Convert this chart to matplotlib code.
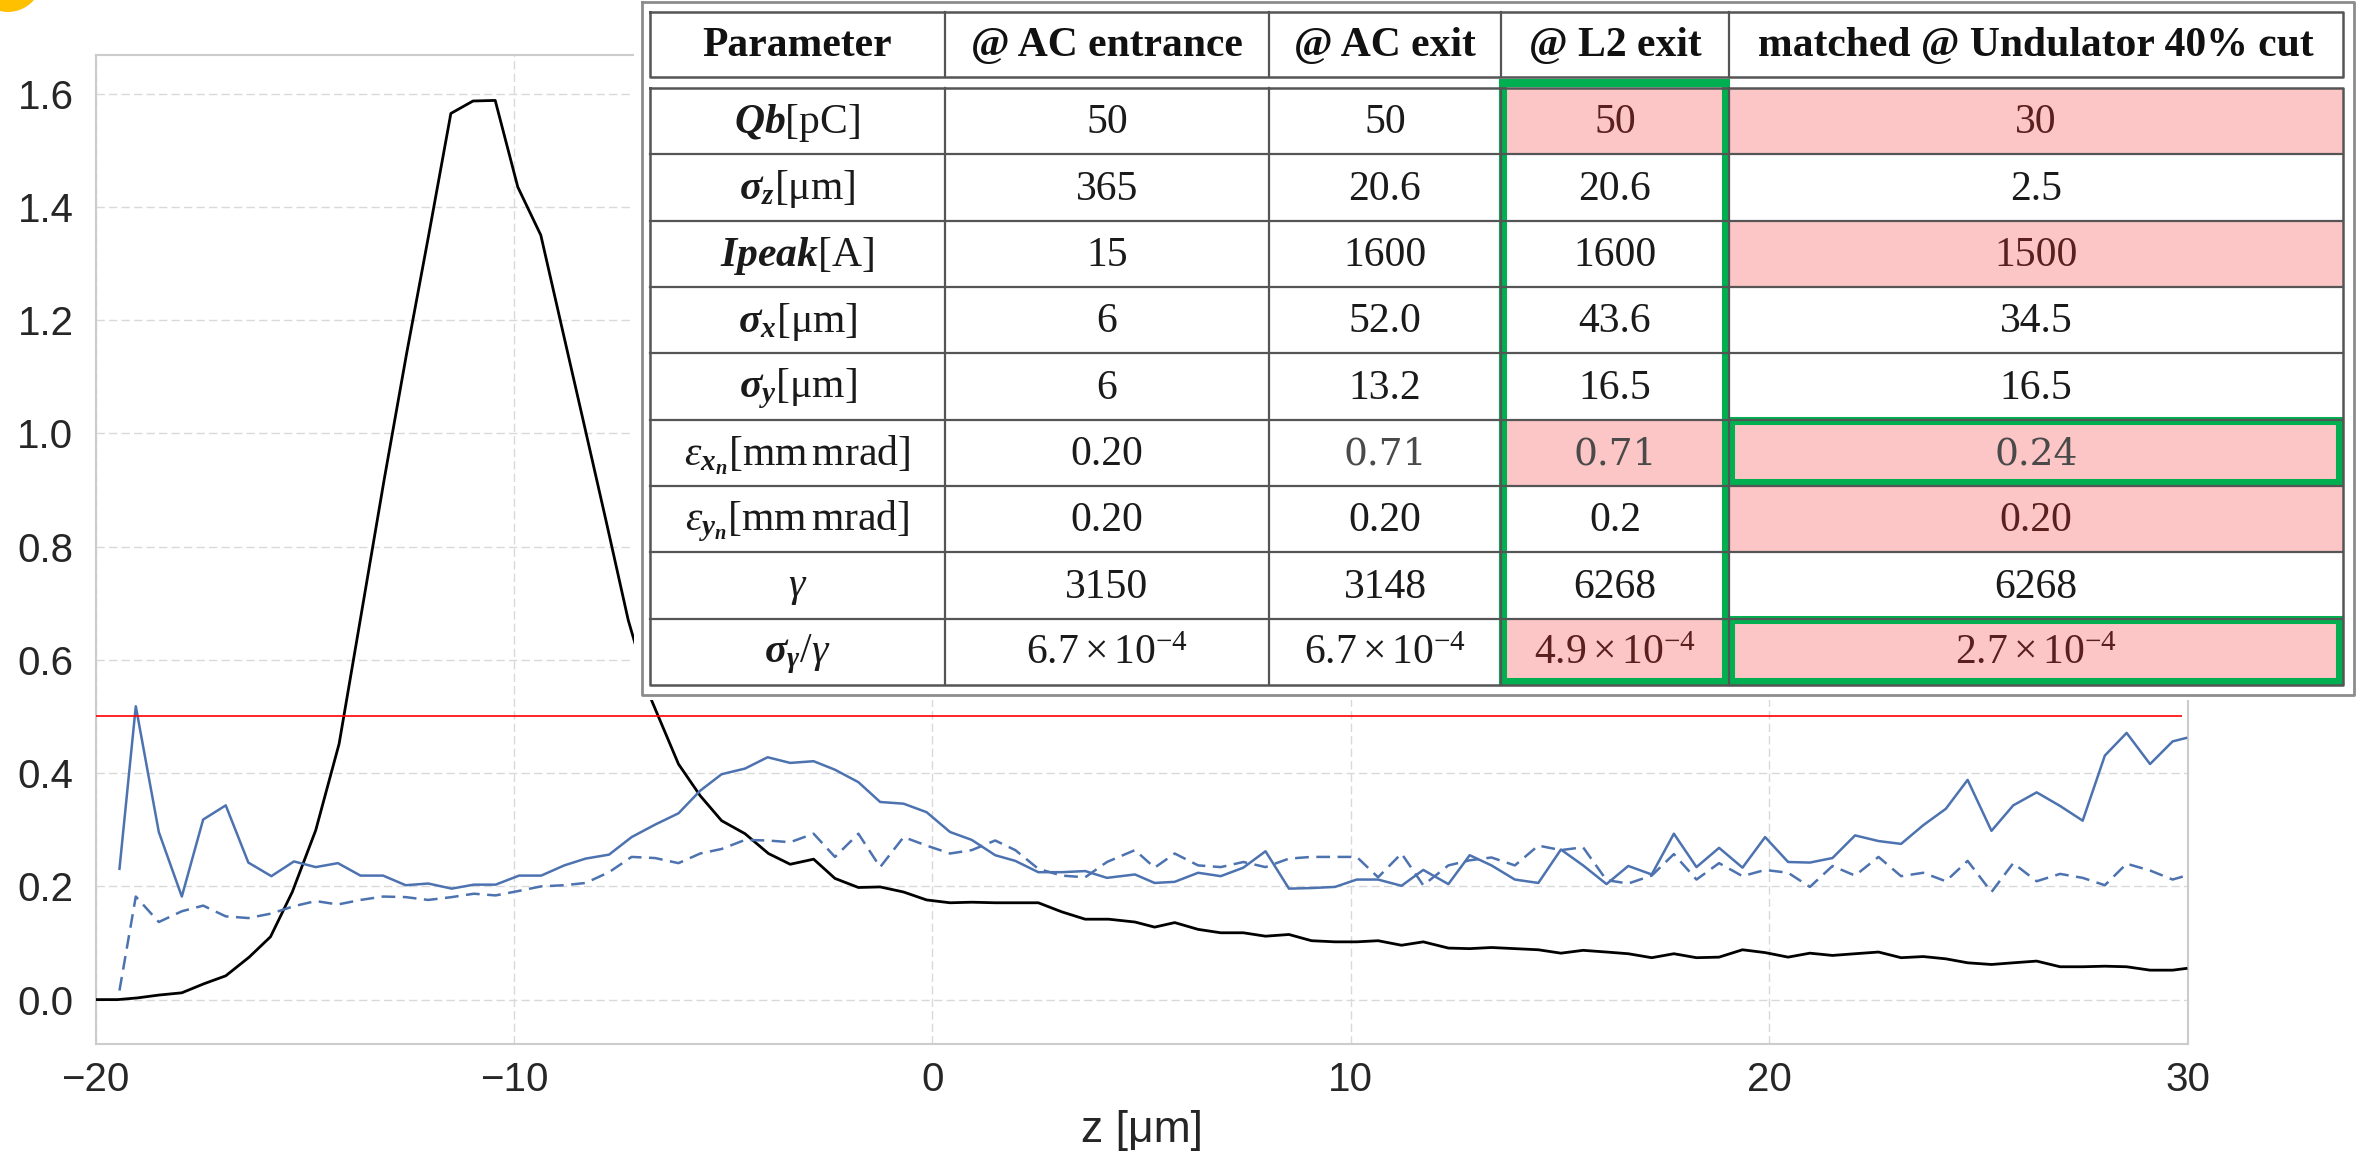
import matplotlib
matplotlib.use("Agg")
import matplotlib.pyplot as plt
from matplotlib.patches import Rectangle, Circle

# ── curves ─────────────────────────────────────────────────────
z_current = [-20.0, -19.47, -19.0, -18.49, -17.94, -17.41, -16.89, -16.33, -15.82, -15.30,
             -14.74, -14.18, -13.63, -13.10, -12.57, -12.04, -11.51, -10.98, -10.45, -9.91,
             -9.36, -8.85, -8.32, -7.79, -7.27, -6.71, -6.07, -5.55, -5.04, -4.48,
             -3.92, -3.40, -2.84, -2.33, -1.77, -1.25, -0.69, -0.14, 0.42, 0.94,
             1.50, 1.98, 2.53, 3.09, 3.65, 4.21, 4.84, 5.31, 5.79, 6.35,
             6.89, 7.43, 7.96, 8.52, 9.06, 9.62, 10.14, 10.65, 11.21, 11.73,
             12.33, 12.84, 13.36, 13.92, 14.48, 15.02, 15.55, 16.11, 16.63, 17.19,
             17.72, 18.26, 18.80, 19.36, 19.90, 20.45, 20.97, 21.51, 22.05, 22.61,
             23.15, 23.68, 24.22, 24.74, 25.31, 25.83, 26.39, 26.95, 27.49, 28.02,
             28.54, 29.10, 29.64, 29.96]
current = [0.000, 0.000, 0.003, 0.008, 0.012, 0.028, 0.042, 0.075, 0.111, 0.190,
           0.299, 0.452, 0.690, 0.920, 1.140, 1.350, 1.565, 1.587, 1.588, 1.435,
           1.350, 1.185, 1.014, 0.842, 0.670, 0.528, 0.416, 0.360, 0.316, 0.293,
           0.258, 0.239, 0.248, 0.214, 0.198, 0.199, 0.190, 0.176, 0.171, 0.172,
           0.171, 0.171, 0.171, 0.155, 0.142, 0.142, 0.137, 0.128, 0.136, 0.124,
           0.118, 0.118, 0.112, 0.115, 0.104, 0.102, 0.102, 0.104, 0.096, 0.102,
           0.091, 0.090, 0.092, 0.090, 0.088, 0.082, 0.087, 0.084, 0.081, 0.074,
           0.081, 0.074, 0.075, 0.088, 0.083, 0.075, 0.082, 0.078, 0.081, 0.084,
           0.074, 0.076, 0.072, 0.065, 0.062, 0.065, 0.068, 0.058, 0.058, 0.059,
           0.058, 0.052, 0.052, 0.055]

z_slice = [-19.43, -19.04, -18.49, -17.94, -17.43, -16.89, -16.35, -15.80, -15.26, -14.74,
           -14.21, -13.67, -13.13, -12.59, -12.05, -11.49, -10.96, -10.44, -9.88, -9.35,
           -8.80, -8.29, -7.73, -7.19, -6.63, -6.07, -5.55, -5.04, -4.48, -3.94,
           -3.40, -2.84, -2.33, -1.77, -1.25, -0.69, -0.14, 0.42, 0.94, 1.50,
           1.98, 2.53, 3.09, 3.65, 4.17, 4.84, 5.31, 5.79, 6.35, 6.89,
           7.43, 7.96, 8.52, 9.06, 9.62, 10.14, 10.65, 11.21, 11.73, 12.33,
           12.84, 13.36, 13.92, 14.48, 15.02, 15.55, 16.11, 16.63, 17.19, 17.72,
           18.26, 18.80, 19.36, 19.90, 20.45, 20.97, 21.51, 22.05, 22.61, 23.15,
           23.68, 24.22, 24.74, 25.31, 25.83, 26.39, 26.95, 27.49, 28.02, 28.54,
           29.10, 29.64, 29.96]
emit_x = [0.231, 0.518, 0.296, 0.182, 0.318, 0.343, 0.242, 0.218, 0.244, 0.234,
          0.241, 0.219, 0.219, 0.202, 0.205, 0.196, 0.203, 0.203, 0.219, 0.219,
          0.237, 0.249, 0.256, 0.287, 0.309, 0.329, 0.369, 0.398, 0.408, 0.428,
          0.418, 0.421, 0.406, 0.384, 0.349, 0.346, 0.331, 0.296, 0.282, 0.255,
          0.245, 0.225, 0.225, 0.227, 0.215, 0.221, 0.206, 0.208, 0.224, 0.218,
          0.233, 0.262, 0.196, 0.197, 0.199, 0.212, 0.212, 0.201, 0.229, 0.204,
          0.255, 0.237, 0.212, 0.206, 0.265, 0.237, 0.204, 0.236, 0.221, 0.293,
          0.234, 0.268, 0.233, 0.287, 0.243, 0.242, 0.250, 0.290, 0.280, 0.275,
          0.308, 0.337, 0.388, 0.298, 0.343, 0.366, 0.342, 0.316, 0.431, 0.471,
          0.416, 0.456, 0.462]
emit_y = [0.016, 0.182, 0.137, 0.156, 0.166, 0.147, 0.144, 0.152, 0.165, 0.174,
          0.168, 0.176, 0.182, 0.181, 0.176, 0.181, 0.187, 0.184, 0.192, 0.200,
          0.202, 0.206, 0.225, 0.252, 0.250, 0.241, 0.258, 0.266, 0.282, 0.281,
          0.278, 0.293, 0.252, 0.293, 0.234, 0.287, 0.272, 0.258, 0.264, 0.281,
          0.264, 0.231, 0.219, 0.216, 0.243, 0.264, 0.233, 0.258, 0.237, 0.234,
          0.243, 0.234, 0.249, 0.252, 0.252, 0.252, 0.216, 0.258, 0.202, 0.237,
          0.246, 0.251, 0.237, 0.272, 0.264, 0.269, 0.211, 0.205, 0.219, 0.257,
          0.212, 0.241, 0.218, 0.229, 0.224, 0.199, 0.236, 0.219, 0.252, 0.218,
          0.224, 0.209, 0.245, 0.190, 0.241, 0.209, 0.222, 0.215, 0.202, 0.240,
          0.228, 0.212, 0.219]
threshold = 0.5

# ── table contents ─────────────────────────────────────────────
col_headers = ["Parameter", "@ AC entrance", "@ AC exit", "@ L2 exit",
               "matched @ Undulator 40% cut"]
row_labels = [r"$\mathbf{Qb}\mathrm{[pC]}$",
              r"$\mathbf{\sigma_z}\mathrm{[μm]}$",
              r"$\mathbf{Ipeak}\mathrm{[A]}$",
              r"$\mathbf{\sigma_x}\mathrm{[μm]}$",
              r"$\mathbf{\sigma_y}\mathrm{[μm]}$",
              r"$\epsilon_{\mathbf{x_n}}\mathrm{[mm\,mrad]}$",
              r"$\epsilon_{\mathbf{y_n}}\mathrm{[mm\,mrad]}$",
              r"$\gamma$",
              r"$\mathbf{\sigma_\gamma}/\gamma$"]
ac_entrance = ["50", "365", "15", "6", "6", "0.20", "0.20", "3150", r"$6.7\times10^{-4}$"]
ac_exit     = ["50", "20.6", "1600", "52.0", "13.2", "0.71", "0.20", "3148", r"$6.7\times10^{-4}$"]
l2_exit     = ["50", "20.6", "1600", "43.6", "16.5", "0.71", "0.2", "6268", r"$4.9\times10^{-4}$"]
matched     = ["30", "2.5", "1500", "34.5", "16.5", "0.24", "0.20", "6268", r"$2.7\times10^{-4}$"]
pink_cells = [(0, 3), (5, 3), (8, 3), (0, 4), (2, 4), (5, 4), (6, 4), (8, 4)]
edited_cells = [(5, 2), (5, 3), (5, 4)]
green_boxes = [(0, 8, 3), (5, 5, 4), (8, 8, 4)]   # first row, last row, column

# ── style ──────────────────────────────────────────────────────
plt.rcParams["font.family"] = ["Liberation Sans", "DejaVu Sans"]
plt.rcParams["mathtext.fontset"] = "custom"
plt.rcParams["mathtext.rm"] = "Liberation Serif"
plt.rcParams["mathtext.it"] = "Liberation Serif:italic"
plt.rcParams["mathtext.bf"] = "Liberation Serif:italic:bold"

W, H = 2361, 1156
fig = plt.figure(figsize=(W / 100, H / 100), dpi=100)
ax = fig.add_axes([0.0405, 0.0966, 0.8861, 0.8562])

ax.plot(z_current, current, color="black", lw=2.0, zorder=3)
ax.plot(z_slice, emit_x, color="#4C72B0", lw=1.8, zorder=3)
ax.plot(z_slice, emit_y, color="#4C72B0", lw=1.8, ls=(0, (5.5, 3)), zorder=3)
ax.hlines(threshold, z_current[0], 29.86, color="red", lw=1.2, zorder=3)

ax.set_xlim(-20, 30)
ax.set_ylim(-0.079, 1.669)
ax.set_xticks([-20, -10, 0, 10, 20, 30])
ax.set_yticks([0.0, 0.2, 0.4, 0.6, 0.8, 1.0, 1.2, 1.4, 1.6])
ax.yaxis.set_major_formatter(matplotlib.ticker.FormatStrFormatter("%.1f"))
ax.grid(True, color="#d9d9d9", lw=1.0, ls=(0, (6, 3)))
ax.set_axisbelow(True)
for s in ax.spines.values():
    s.set_color("#cccccc")
    s.set_linewidth(1.5)
ax.tick_params(axis="both", length=0, labelsize=29, labelcolor="#262626")
ax.tick_params(axis="y", pad=16)
ax.tick_params(axis="x", pad=12)
ax.set_xlabel("z [μm]", fontsize=32, color="#262626", labelpad=8)

# ── table pasted over the plot (drawn in pixel coordinates) ───
tb = fig.add_axes([0, 0, 1, 1], zorder=5)
tb.set_xlim(0, W)
tb.set_ylim(H, 0)
tb.axis("off")

col_edges = [650, 945, 1269, 1501, 1729, 2343]
head_top, head_bot = 12, 77
data_top, data_bot = 88, 685
n_rows = len(row_labels)
row_h = (data_bot - data_top) / n_rows
line_c = "#555555"

tb.add_patch(Rectangle((634, 0), W - 634, 700, facecolor="white", edgecolor="none"))
for r, c in pink_cells:
    tb.add_patch(Rectangle((col_edges[c], data_top + r * row_h), col_edges[c + 1] - col_edges[c],
                           row_h, facecolor="#FDC6C6", edgecolor="none"))

# outer double rule
tb.plot([641.5, 2354, 2354, 641.5, 641.5], [2, 2, 695, 695, 2], color="#8c8c8c", lw=2.0)
# header box and data box
for y0, y1 in [(head_top, head_bot), (data_top, data_bot)]:
    tb.plot([col_edges[0], col_edges[-1], col_edges[-1], col_edges[0], col_edges[0]],
            [y0, y0, y1, y1, y0], color=line_c, lw=1.8)
    for x in col_edges[1:-1]:
        tb.plot([x, x], [y0, y1], color=line_c, lw=1.6)
for k in range(1, n_rows):
    y = data_top + k * row_h
    tb.plot([col_edges[0], col_edges[-1]], [y, y], color=line_c, lw=1.6)

# texts
centers = [(col_edges[i] + col_edges[i + 1]) / 2 for i in range(len(col_edges) - 1)]
for i, h in enumerate(col_headers):
    tb.text(centers[i], (head_top + head_bot) / 2 + 2, h, ha="center", va="center",
            fontsize=30, fontweight="bold", family="Liberation Serif", color="#111111")

columns = [row_labels, ac_entrance, ac_exit, l2_exit, matched]
for c, vals in enumerate(columns):
    for r, v in enumerate(vals):
        y = data_top + (r + 0.5) * row_h + 2
        color = "#5a1f1f" if (r, c) in pink_cells else "#1a1a1a"
        if (r, c) in edited_cells:
            tb.text(centers[c], y, v, ha="center", va="center", fontsize=27,
                    family="DejaVu Serif", color="#4a4a4a")
        else:
            tb.text(centers[c], y, v, ha="center", va="center", fontsize=30,
                    family="Liberation Serif", color=color)

# green highlight boxes
for r0, r1, c in green_boxes:
    x0, x1 = col_edges[c] + 2, col_edges[c + 1] - 3
    y0, y1 = data_top + r0 * row_h - (5 if r0 == 0 else -1), data_top + (r1 + 1) * row_h - 3
    tb.add_patch(Rectangle((x0, y0), x1 - x0, y1 - y0, facecolor="none",
                           edgecolor="#00B050", lw=5.8))

# yellow marker peeking in at the top-left corner
tb.add_patch(Circle((8, -22), 34, facecolor="#FFC000", edgecolor="none"))

fig.savefig("out.png", dpi=100)
